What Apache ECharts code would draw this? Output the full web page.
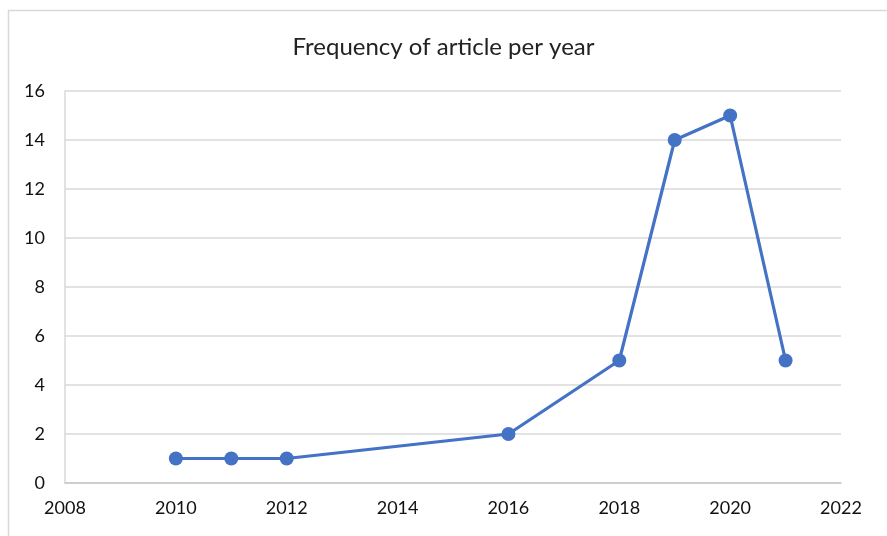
<!DOCTYPE html>
<html>
<head>
<meta charset="utf-8">
<script src="https://cdn.jsdelivr.net/npm/echarts@6/dist/echarts.min.js"></script>
<style>
html,body{margin:0;padding:0;background:#fff;}
#chart{width:887px;height:536px;}
</style>
</head>
<body>
<div id="chart"></div>
<script>
// Publication years and article counts
const years = [2010, 2011, 2012, 2016, 2018, 2019, 2020, 2021];
const counts = [1, 1, 1, 2, 5, 14, 15, 5];
const titleText = 'Frequency of article per year';

const chart = echarts.init(document.getElementById('chart'), null, {renderer: 'canvas'});
const fontFamily = 'Lato, "Open Sans", sans-serif';

chart.setOption({
  animation: false,
  backgroundColor: '#ffffff',
  graphic: [{
    type: 'rect',
    left: 6, top: 8,
    shape: {width: 900, height: 560},
    style: {fill: 'none', stroke: '#d9d9d9', lineWidth: 1.5},
    z: -1
  }],
  title: {
    text: titleText,
    left: 'center',
    top: 30,
    textStyle: {fontFamily, fontSize: 24, fontWeight: 'normal', color: '#222'}
  },
  grid: {left: 65, right: 46, top: 91, bottom: 53},
  xAxis: {
    type: 'value',
    min: 2008, max: 2022, interval: 2,
    axisLine: {show: true, lineStyle: {color: '#c8c8c8', width: 1.5}},
    axisTick: {show: false},
    splitLine: {show: false},
    axisLabel: {fontFamily, fontSize: 18, color: '#111', margin: 16, formatter: v => String(v)}
  },
  yAxis: {
    type: 'value',
    min: 0, max: 16, interval: 2,
    axisLine: {show: true, lineStyle: {color: '#d9d9d9', width: 1.5}},
    axisTick: {show: false},
    splitLine: {show: true, lineStyle: {color: '#d9d9d9', width: 1.5}},
    axisLabel: {fontFamily, fontSize: 18, color: '#111', margin: 20}
  },
  series: [{
    type: 'line',
    data: years.map((y, i) => [y, counts[i]]),
    symbol: 'circle',
    symbolSize: 14,
    lineStyle: {color: '#4472c4', width: 3.2},
    itemStyle: {color: '#4472c4'}
  }]
});
</script>
</body>
</html>
